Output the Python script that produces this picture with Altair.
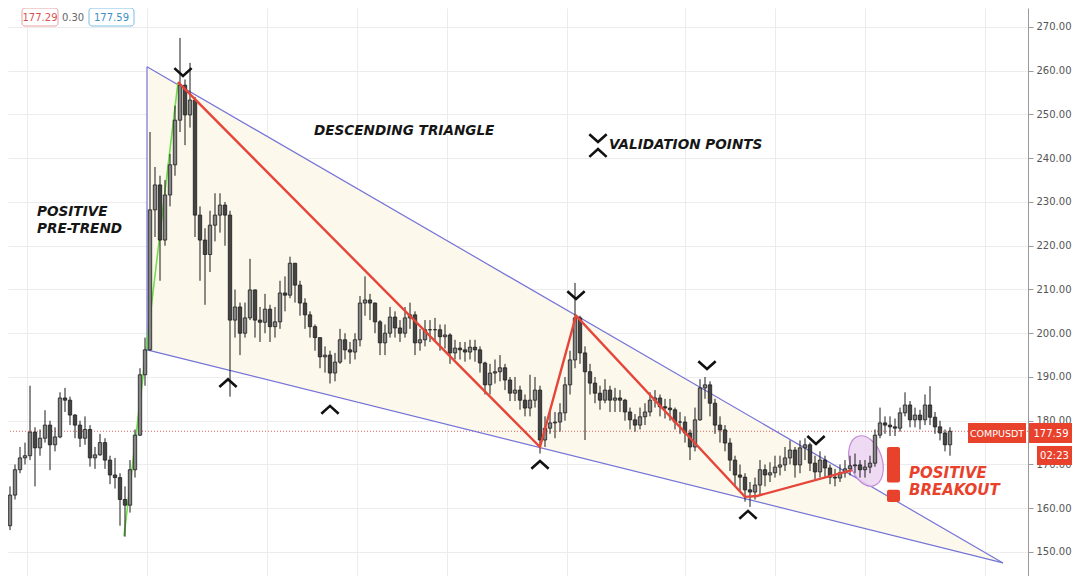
import altair as alt
import pandas as pd

# ---------------- data ----------------
close = [156, 163, 168.8, 171.5, 172, 177.4, 173.8, 176, 179, 174.5,
         176.3, 185.2, 184.7, 181.3, 179, 176, 178, 171.5, 172.2, 175,
         171, 167.6, 167, 162, 160.7, 168.8, 176.7, 190.5, 196.2, 228.2,
         233.9, 221.3, 231.6, 238.5, 248.7, 256.7, 249.9, 253.3, 227, 221.3,
         218, 224.7, 227, 229.3, 227, 203, 206, 200, 203.5, 209.9,
         203, 202.5, 205.5, 201.5, 202.6, 209.2, 208.7, 216, 211, 206.9,
         204.2, 201.5, 199, 194.6, 195, 190.9, 193.4, 198.5, 196.2, 195.7,
         198.5, 206.9, 207.6, 206.9, 202.6, 197.8, 200, 203.7, 201.2, 200,
         203.5, 204.2, 197.8, 198.5, 200.8, 200.8, 200.8, 199.2, 199.6, 195.5,
         196.6, 196.2, 195.7, 196.8, 196.2, 193.2, 188.2, 190.9, 191.2, 192.1,
         189.3, 186.3, 187, 184.7, 182.9, 184.7, 187, 175.6, 178.3, 179.5,
         179.7, 181.8, 188.2, 193.9, 203.5, 195.5, 191.2, 188.6, 186.3, 184.7,
         187, 184.7, 185.2, 184.7, 182, 180.2, 179, 180.9, 182, 184.7,
         185.2, 183.2, 182.9, 182.5, 179.7, 179.7, 177.2, 174, 180.2, 187.5,
         188.2, 184, 179, 177.9, 174.9, 171, 167.6, 167.1, 164.2, 163.7,
         165.3, 168.8, 167.6, 168.1, 169.4, 169.9, 171.5, 173.3, 169.9, 173.8,
         174.5, 170.3, 168.3, 171, 169.2, 167.1, 166.9, 168.1, 169, 169.7,
         169.9, 168.8, 169.4, 170.3, 176.7, 179.5, 179, 178.6, 178.3, 181.8,
         183.6, 180.2, 181.3, 180.2, 183.6, 180.8, 178.6, 177.2, 174.5, 177.59]
high = [162, 165, 170, 174, 175, 188, 178.5, 178, 182.4, 180,
        178.5, 186.5, 187.5, 185.5, 181.5, 180, 181, 179, 174, 177,
        176, 172, 171.5, 168, 165, 171, 178, 192, 199, 246,
        238, 236, 235, 241, 252, 267.5, 258, 261.8, 254, 229,
        224, 228, 232, 232, 230, 228, 210, 207, 207, 217,
        210, 206, 209, 206.5, 206, 212, 213, 217.5, 216, 212,
        208, 205, 202, 199, 197, 196, 195.5, 201, 200, 198,
        200, 208.5, 213, 209, 207, 203, 202, 206, 205, 203,
        206, 207, 205, 201, 203, 203, 203.5, 202, 202, 200,
        198.5, 198, 198, 198.5, 198.5, 197, 193.5, 193, 194, 195,
        193, 190, 190, 188, 186, 190.5, 190, 188, 181, 182,
        182, 184, 190, 196, 211.5, 204, 197, 193, 190, 188,
        189.5, 188, 187.5, 187, 185, 183, 181.5, 183, 184, 186.5,
        187, 186, 185, 185, 183, 182, 181, 178, 183, 189.5,
        190, 189, 185, 181, 179, 176, 172, 170, 168, 166,
        167, 171, 170, 170.5, 172, 172, 174, 175.5, 174, 175.5,
        176, 175, 172, 173, 172, 170, 169, 170, 171, 172,
        172.5, 171, 171, 172, 178, 183, 181, 181, 180.5, 183,
        186.5, 184.5, 183, 182.5, 186, 187.9, 182, 180, 178, 178.5]
low = [154, 155, 162, 168, 170, 171, 165, 172, 175, 168.7,
       173, 176, 182, 179, 176, 174, 174.5, 169.5, 169, 172,
       169, 165.5, 164.5, 156, 153.5, 159, 167, 176.5, 188, 196,
       222, 212, 220, 229, 236, 246, 243, 247, 222, 212,
       206.5, 214, 221, 223, 220, 185.5, 199, 195, 199, 203,
       199, 198, 200, 198, 199, 201, 205, 208, 207, 204,
       201, 199, 196, 192, 191, 188.5, 189, 193, 194, 193,
       194, 197, 204, 203, 200, 195, 195, 199, 199, 198,
       199, 201, 195, 196, 197, 198, 198, 196, 196.5, 193,
       194, 194, 193.5, 194, 193.5, 191, 186, 186, 188.5, 189,
       187, 184.5, 184.5, 182.5, 181, 181, 183, 172.5, 174, 177,
       176, 177.5, 180, 186, 192, 193, 175.6, 186, 184, 182.5,
       184, 182, 182, 182, 180, 178, 177.5, 178, 179, 181,
       183, 181, 180.5, 180, 178, 177, 175, 171, 173, 180,
       185, 181, 177, 175, 173, 168.5, 165, 164, 161.5, 160.3,
       162, 163, 165, 166, 167, 167.5, 168.5, 170, 167, 168,
       171, 168.5, 166.5, 167, 167, 165.5, 165, 166, 167, 167.5,
       168, 167, 167, 168, 169.5, 176, 177, 176.5, 176.5, 177.5,
       181, 178.5, 178.5, 178, 179, 179, 177, 175.5, 173, 172]
first_open = 158.0

grid_x = [4.4, 28.4, 52.4, 70.4, 88.4, 112.4, 136.0, 154.0, 172.0, 196.0]
price_ticks = [150, 160, 170, 180, 190, 200, 210, 220, 230, 240, 250, 260, 270]
last_price = 177.59

# descending triangle (bar index, price)
tri_x = [28.4, 199.6]
tri_top = [260.9, 147.5]
tri_bot = [196.2, 147.5]

# pre-trend (green) and zig-zag (red)
green_x = [23.8, 34.6]
green_p = [153.6, 257.4]
zig_x = [34.6, 107.0, 114.2, 148.0, 150.4, 169.4]
zig_p = [257.4, 174.0, 204.0, 162.6, 162.8, 168.7]

# validation chevrons
top_marks_x = [35.6, 114.2, 140.4, 162.2, 118.6]
top_marks_p = [259.7, 208.7, 192.7, 175.6, 244.6]
bot_marks_x = [44.6, 65.0, 107.0, 148.6, 118.6]
bot_marks_p = [188.6, 182.5, 169.9, 158.5, 241.2]

# breakout ellipse and exclamation mark
oval_x, oval_p = [172.2], [170.8]
bang_x1, bang_x2 = [176.4, 176.4], [179.0, 179.0]
bang_p1, bang_p2 = [174.0, 164.2], [165.9, 161.4]

# ---------------- frames ----------------
open_ = [first_open] + close[:-1]
candles = pd.DataFrame({
    "i": list(range(len(close))), "open": open_, "close": close,
    "high": high, "low": low,
})
candles["dir"] = ["up" if c >= o else "down" for o, c in zip(open_, close)]

tri = pd.DataFrame({"i": tri_x, "top": tri_top, "bot": tri_bot})
edges = pd.DataFrame({
    "x1": [tri_x[0], tri_x[0], tri_x[0]],
    "x2": [tri_x[0], tri_x[1], tri_x[1]],
    "y1": [tri_bot[0], tri_top[0], tri_bot[0]],
    "y2": [tri_top[0], tri_top[1], tri_bot[1]],
})
green = pd.DataFrame({"x1": [green_x[0]], "x2": [green_x[1]], "y1": [green_p[0]], "y2": [green_p[1]]})
zig = pd.DataFrame({"i": zig_x, "p": zig_p})
tops = pd.DataFrame({"i": top_marks_x, "p": top_marks_p})
bots = pd.DataFrame({"i": bot_marks_x, "p": bot_marks_p})

X_DOMAIN = [0.6, 204.6]
Y_DOMAIN = [144.51, 274.34]
W, H = 1020, 568
xs = alt.Scale(domain=X_DOMAIN, nice=False, zero=False, padding=0)
ys = alt.Scale(domain=Y_DOMAIN, nice=False, zero=False, padding=0)

FONT = "DejaVu Sans"

x_axis = alt.Axis(values=grid_x, labels=False, ticks=False, domain=False,
                  grid=True, gridColor="#ececec", gridWidth=1, title=None)
y_axis = alt.Axis(orient="right", values=price_ticks, format=".2f", grid=True,
                  gridColor="#ececec", domainColor="#9a9a9a", tickColor="#9a9a9a",
                  tickSize=5, labelFontSize=10, labelFont=FONT, labelColor="#555",
                  labelPadding=3, title=None)


def X(field):
    return alt.X(field, type="quantitative", scale=xs, axis=x_axis)


def Y(field):
    return alt.Y(field, type="quantitative", scale=ys, axis=y_axis)


tri_fill = alt.Chart(tri).mark_area(color="#fdf8ec", opacity=1).encode(
    x=X("i"), y=Y("top"), y2="bot")

price_line = alt.Chart(pd.DataFrame({"p": [last_price]})).mark_rule(
    color="#e0605a", strokeDash=[1, 2], strokeWidth=1).encode(y=Y("p"))

ELLIPSE = "M-0.62,0A0.62,1 0 1,0 0.62,0A0.62,1 0 1,0 -0.62,0Z"
oval = alt.Chart(pd.DataFrame({"i": oval_x, "p": oval_p})).mark_point(
    shape=ELLIPSE, filled=True, size=2700, angle=342, fill="#ecd3f2", fillOpacity=0.85,
    stroke="#c48ad6", strokeWidth=1.2, opacity=1).encode(x=X("i"), y=Y("p"))

wicks = alt.Chart(candles).mark_rule(color="#1a1a1a", strokeWidth=1, clip=True).encode(
    x=X("i"), y=Y("low"), y2="high")
bodies = alt.Chart(candles).mark_bar(size=3.4, stroke="#1a1a1a", strokeWidth=0.8, clip=True).encode(
    x=X("i"), y=Y("open"), y2="close",
    fill=alt.Fill("dir:N", scale=alt.Scale(domain=["up", "down"], range=["#858585", "#444444"]), legend=None))

edge_lines = alt.Chart(edges).mark_rule(color="#7474d8", strokeWidth=1.2).encode(
    x=X("x1"), x2="x2", y=Y("y1"), y2="y2")
green_line = alt.Chart(green).mark_rule(color="#6fe04a", strokeWidth=1.6).encode(
    x=X("x1"), x2="x2", y=Y("y1"), y2="y2")
zig_line = alt.Chart(zig).mark_line(color="#e6453a", strokeWidth=2.4).encode(x=X("i"), y=Y("p"))

V_PATH = "M-1,-0.45L0,0.45L1,-0.45"
A_PATH = "M-1,0.45L0,-0.45L1,0.45"
top_pts = alt.Chart(tops).mark_point(shape=V_PATH, filled=False, size=300, color="#111",
                                     strokeWidth=2.6, opacity=1).encode(x=X("i"), y=Y("p"))
bot_pts = alt.Chart(bots).mark_point(shape=A_PATH, filled=False, size=300, color="#111",
                                     strokeWidth=2.6, opacity=1).encode(x=X("i"), y=Y("p"))

bang = alt.Chart(pd.DataFrame({"x1": bang_x1, "x2": bang_x2,
                               "y1": bang_p1, "y2": bang_p2})).mark_rect(
    color="#e8412c", cornerRadius=2).encode(x=X("x1"), x2="x2", y=Y("y1"), y2="y2")

labels = pd.DataFrame({
    "i": [6.4, 6.4, 61.8, 120.8],
    "p": [227.7, 223.8, 246.2, 243.0],
    "t": ["POSITIVE", "PRE-TREND", "DESCENDING TRIANGLE", "VALIDATION POINTS"],
})
black_text = alt.Chart(labels).mark_text(align="left", baseline="middle", font=FONT, fontSize=13.6,
                                         fontWeight="bold", fontStyle="italic", color="#161616").encode(
    x=X("i"), y=Y("p"), text="t:N")
red_labels = pd.DataFrame({"i": [180.8, 180.8], "p": [168.1, 164.2], "t": ["POSITIVE", "BREAKOUT"]})
red_text = alt.Chart(red_labels).mark_text(align="left", baseline="middle", font=FONT, fontSize=15,
                                           fontWeight="bold", fontStyle="italic", color="#e8412c").encode(
    x=X("i"), y=Y("p"), text="t:N")

# header boxes (UI chrome, pixel placed)
hdr = alt.Chart(pd.DataFrame({"k": [0]}))
box1 = hdr.mark_rect(fill="white", stroke="#e8a3a3", strokeWidth=1, cornerRadius=3).encode(
    x=alt.value(14), x2=alt.value(50), y=alt.value(0), y2=alt.value(18))
box2 = hdr.mark_rect(fill="white", stroke="#7fbfe3", strokeWidth=1, cornerRadius=3).encode(
    x=alt.value(81), x2=alt.value(126), y=alt.value(0), y2=alt.value(18))
t1 = hdr.mark_text(text="177.29", font=FONT, fontSize=10, color="#d9534f").encode(
    x=alt.value(32), y=alt.value(9.5))
t2 = hdr.mark_text(text="0.30", font=FONT, fontSize=10, color="#666").encode(
    x=alt.value(65), y=alt.value(9.5))
t3 = hdr.mark_text(text="177.59", font=FONT, fontSize=10, color="#3c8fc4").encode(
    x=alt.value(103.5), y=alt.value(9.5))

# price tags at the right
tag1 = hdr.mark_rect(fill="#e8412c").encode(x=alt.value(960), x2=alt.value(1018),
                                            y=alt.value(415), y2=alt.value(435))
tag2 = hdr.mark_rect(fill="#e8412c").encode(x=alt.value(1021), x2=alt.value(1064),
                                            y=alt.value(415), y2=alt.value(435))
tag3 = hdr.mark_rect(fill="#e8412c").encode(x=alt.value(1029), x2=alt.value(1064),
                                            y=alt.value(438), y2=alt.value(457))
tt1 = hdr.mark_text(text="COMPUSDT", font=FONT, fontSize=9.5, color="white").encode(
    x=alt.value(989), y=alt.value(425.5))
tt2 = hdr.mark_text(text="177.59", font=FONT, fontSize=10, color="white").encode(
    x=alt.value(1043), y=alt.value(425.5))
tt3 = hdr.mark_text(text="02:23", font=FONT, fontSize=10, color="white").encode(
    x=alt.value(1046.5), y=alt.value(448))

chart = alt.layer(
    tri_fill, price_line, edge_lines, oval, green_line, wicks, bodies, zig_line,
    top_pts, bot_pts, bang, black_text, red_text,
    box1, box2, t1, t2, t3, tag1, tag2, tag3, tt1, tt2, tt3,
).properties(
    width=W, height=H,
    autosize=alt.AutoSizeParams(type="none"),
    padding={"left": 0, "top": 0, "right": 44, "bottom": 0},
    background="white",
).configure_view(stroke=None)

chart.save("out.html", embed_options={"renderer": "svg", "actions": False})
